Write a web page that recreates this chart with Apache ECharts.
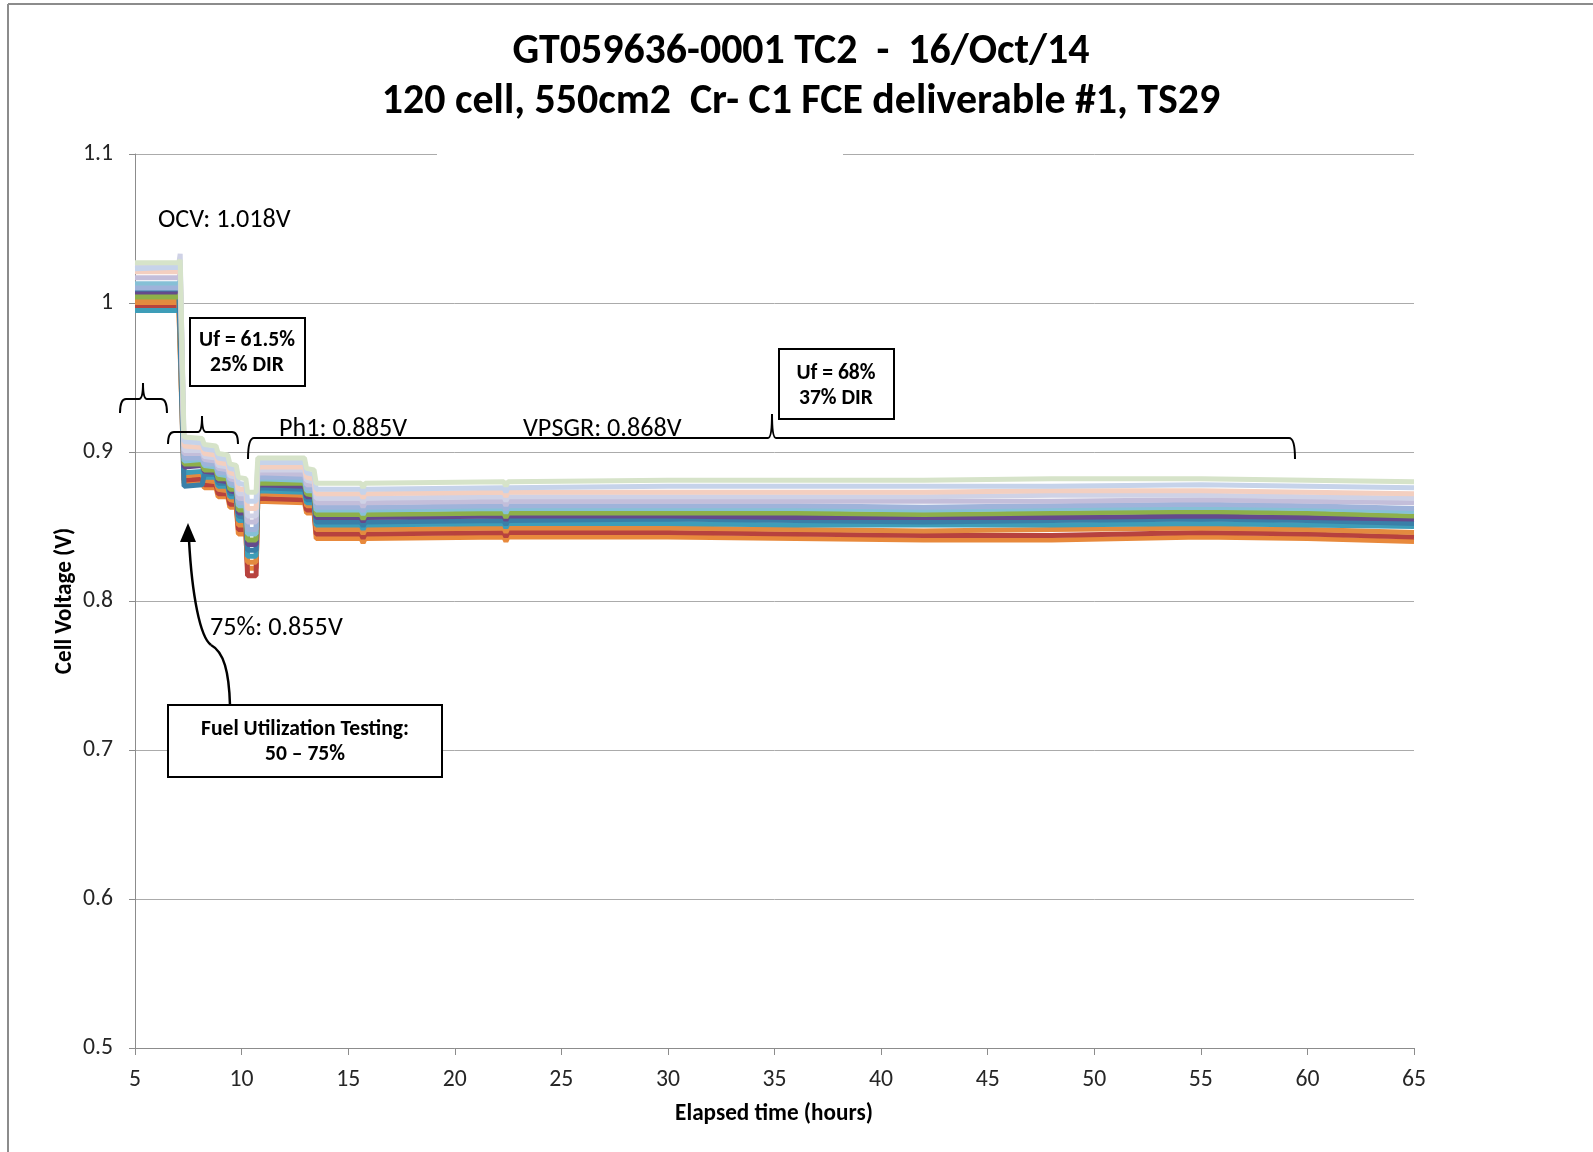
<!DOCTYPE html>
<html><head><meta charset="utf-8">
<script src="https://cdn.jsdelivr.net/npm/echarts@6/dist/echarts.min.js"></script>
<style>html,body{margin:0;padding:0;background:#fff}#c{width:1593px;height:1152px}</style>
</head><body><div id="c"></div>
<script>
// ---- data (elapsed hours, cell voltages V) ----
const timeHours = [5.0,7.05,7.12,7.3,8.15,8.25,8.8,8.9,9.35,9.45,9.75,9.85,10.2,10.28,10.68,10.76,12.95,13.05,13.4,13.5,15.6,15.7,15.8,22.3,22.4,22.5,30,36,42,48,55,60,65];
const cellOrangeLow = [1.000,1.000,1.001,.879,.880,.876,.876,.870,.870,.863,.863,.845,.845,.822,.822,.867,.866,.859,.859,.842,.842,.839,.842,.843,.840,.843,.843,.842,.841,.841,.843,.842,.840];
const cellRed       = [.997,.997,.999,.881,.882,.878,.878,.872,.872,.865,.865,.848,.848,.817,.817,.869,.868,.861,.861,.845,.845,.842,.845,.846,.843,.846,.846,.845,.844,.844,.846,.845,.843];
const cellOrange    = [1.001,1.001,1.002,.884,.885,.881,.880,.875,.874,.868,.867,.851,.851,.826,.826,.872,.871,.864,.864,.848,.848,.845,.848,.849,.846,.849,.849,.848,.847,.848,.849,.848,.846];
const cellTeal      = [.995,.995,.997,.886,.887,.883,.883,.877,.877,.870,.870,.854,.854,.830,.830,.874,.873,.866,.866,.851,.851,.848,.851,.852,.849,.852,.852,.851,.851,.851,.852,.851,.850];
const cellDarkBlue  = [1.009,1.009,1.010,.877,.878,.885,.885,.879,.879,.872,.872,.857,.856,.834,.834,.876,.875,.868,.868,.853,.853,.850,.853,.854,.851,.854,.855,.854,.853,.854,.855,.854,.852];
const cellPurple    = [1.006,1.006,1.008,.890,.891,.887,.886,.881,.880,.874,.873,.859,.859,.838,.838,.878,.877,.870,.870,.856,.856,.853,.856,.857,.854,.857,.857,.856,.856,.856,.857,.856,.855];
const cellGreen     = [1.004,1.004,1.006,.892,.892,.888,.888,.882,.882,.875,.875,.861,.861,.841,.841,.879,.879,.872,.871,.858,.858,.855,.858,.859,.856,.859,.859,.859,.858,.859,.860,.859,.857];
const cellLightBlue = [1.013,1.013,1.015,.894,.895,.891,.890,.885,.884,.878,.877,.864,.864,.845,.845,.882,.881,.874,.874,.861,.861,.858,.861,.862,.859,.862,.862,.862,.861,.862,.863,.862,.860];
const cellBlue      = [1.010,1.010,1.012,.896,.896,.892,.892,.886,.886,.879,.879,.866,.866,.848,.848,.883,.883,.876,.875,.863,.863,.860,.863,.864,.861,.864,.864,.864,.863,.864,.865,.864,.862];
const cellLavender  = [1.017,1.017,1.020,.899,.899,.895,.894,.889,.888,.882,.881,.869,.869,.853,.853,.886,.885,.878,.878,.866,.866,.863,.866,.867,.864,.867,.867,.867,.867,.867,.868,.867,.866];
const cellLavGray   = [1.025,1.026,1.033,.901,.901,.897,.896,.891,.890,.884,.883,.872,.872,.857,.857,.888,.888,.881,.880,.869,.869,.866,.869,.870,.867,.870,.870,.870,.870,.871,.871,.870,.869];
const cellPeach     = [1.021,1.021,1.024,.904,.903,.899,.898,.893,.892,.886,.885,.875,.875,.862,.862,.890,.890,.883,.882,.872,.872,.869,.872,.873,.870,.873,.873,.873,.873,.874,.874,.873,.872];
const cellPaleBlue  = [1.023,1.024,1.026,.907,.906,.902,.901,.896,.895,.889,.888,.879,.878,.867,.867,.893,.893,.886,.885,.875,.875,.872,.875,.876,.873,.876,.877,.877,.877,.877,.878,.877,.876];
const cellPaleGreen = [1.027,1.027,1.029,.910,.909,.905,.904,.899,.898,.892,.891,.883,.882,.873,.873,.896,.896,.889,.888,.879,.879,.876,.879,.880,.877,.880,.881,.881,.881,.882,.882,.881,.880];

const seriesValues = [cellOrangeLow,cellRed,cellOrange,cellTeal,cellDarkBlue,cellPurple,cellGreen,cellLightBlue,cellBlue,cellLavender,cellLavGray,cellPeach,cellPaleBlue,cellPaleGreen];
const seriesNames = ['Cell group 1','Cell group 2','Cell group 3','Cell group 4','Cell group 5','Cell group 6','Cell group 7','Cell group 8','Cell group 9','Cell group 10','Cell group 11','Cell group 12','Cell group 13','Cell group 14'];
const seriesColors = ['#E8893C','#B7423E','#E38A3F','#3E9DB8','#3A7FA8','#654A8C','#8DB04A','#86C0D6','#9FB3DA','#C3BEDA','#CFD2E6','#F3CFC0','#C6D3EA','#D6E3C9'];

const xMin = 5, xMax = 65, xStep = 5;
const yMin = 0.5, yMax = 1.1, yStep = 0.1;

const titleLine1 = 'GT059636-0001 TC2  -  16/Oct/14';
const titleLine2 = '120 cell, 550cm2  Cr- C1 FCE deliverable #1, TS29';
const xAxisName = 'Elapsed time (hours)';
const yAxisName = 'Cell Voltage (V)';

// ---- fonts ----
const FONT = 'Carlito, Calibri, Lato, sans-serif';
const cv = document.createElement('canvas').getContext('2d');
function fit(text, weight, w){ cv.font = weight + ' 100px ' + FONT; return Math.round(1000 * w / cv.measureText(text).width) / 10; }
const fTitle1 = fit(titleLine1, 'bold', 577);
const fTitle2 = fit(titleLine2, 'bold', 839);
const fAnn = fit('OCV: 1.018V', 'normal', 133);
const fBox = fit('Fuel Utilization Testing:', 'bold', 208);
const fAxisName = fit(xAxisName, 'bold', 198);
const fTick = fit('0.5', 'normal', 30);

const chart = echarts.init(document.getElementById('c'), null, {renderer: 'canvas'});

function txt(text, x, y, size, weight, align, extra){
  return Object.assign({type:'text', z:100, style:{text, x, y, fill:'#000', fontSize:size, fontFamily:FONT, fontWeight:weight, align:align||'left', verticalAlign:'middle'}}, extra||{});
}
function box(x, y, w, h){
  return {type:'rect', z:99, shape:{x, y, width:w, height:h}, style:{fill:'#fff', stroke:'#000', lineWidth:2}};
}
function brace(x1, x2, xm, yl, ye, yp){
  const r = 6, s = {stroke:'#000', lineWidth:2, fill:null};
  return [
    {type:'bezierCurve', z:100, shape:{x1:x1, y1:ye, cpx1:x1, cpy1:yl, x2:x1+r, y2:yl}, style:s},
    {type:'line', z:100, shape:{x1:x1+r, y1:yl, x2:xm-4, y2:yl}, style:s},
    {type:'bezierCurve', z:100, shape:{x1:xm-4, y1:yl, cpx1:xm, cpy1:yl, x2:xm, y2:yp}, style:s},
    {type:'bezierCurve', z:100, shape:{x1:xm, y1:yp, cpx1:xm, cpy1:yl, x2:xm+4, y2:yl}, style:s},
    {type:'line', z:100, shape:{x1:xm+4, y1:yl, x2:x2-r, y2:yl}, style:s},
    {type:'bezierCurve', z:100, shape:{x1:x2-r, y1:yl, cpx1:x2, cpy1:yl, x2:x2, y2:ye}, style:s}
  ];
}

const yName = txt(yAxisName, 0, 0, fAxisName, 'bold', 'center', {rotation: Math.PI/2, x:65, y:601});

const graphics = [
  // outer frame lines
  {type:'line', z:1, shape:{x1:8, y1:4, x2:8, y2:1152}, style:{stroke:'#8C8C8C', lineWidth:2}},
  {type:'line', z:1, shape:{x1:8, y1:4, x2:1593, y2:4}, style:{stroke:'#8C8C8C', lineWidth:2}},
  // gap in the top gridline behind the title
  {type:'rect', z:50, shape:{x:437, y:149, width:406, height:10}, style:{fill:'#fff'}},
  txt(titleLine1, 801, 53, fTitle1, 'bold', 'center'),
  txt(titleLine2, 801, 103, fTitle2, 'bold', 'center'),
  txt(xAxisName, 774, 1114, fAxisName, 'bold', 'center'),
  yName,
  txt('OCV: 1.018V', 158, 220, fAnn, 'normal', 'left'),
  txt('Ph1: 0.885V', 279, 429, fAnn, 'normal', 'left'),
  txt('VPSGR: 0.868V', 523, 429, fAnn, 'normal', 'left'),
  txt('75%: 0.855V', 210, 628, fAnn, 'normal', 'left'),
  box(190, 318, 115, 68),
  txt('Uf = 61.5%', 247, 341, fBox, 'bold', 'center'),
  txt('25% DIR', 247, 366, fBox, 'bold', 'center'),
  box(779, 349, 115, 70),
  txt('Uf = 68%', 836, 374, fBox, 'bold', 'center'),
  txt('37% DIR', 836, 399, fBox, 'bold', 'center'),
  box(168, 705, 274, 72),
  txt('Fuel Utilization Testing:', 305, 730, fBox, 'bold', 'center'),
  txt('50 \u2013 75%', 305, 755, fBox, 'bold', 'center'),
  // arrow
  {type:'bezierCurve', z:100, shape:{x1:230, y1:705, cpx1:229, cpy1:672, cpx2:224, cpy2:652, x2:211, y2:645}, style:{stroke:'#000', lineWidth:2.5, fill:null}},
  {type:'bezierCurve', z:100, shape:{x1:211, y1:645, cpx1:200, cpy1:637, cpx2:192, cpy2:595, x2:189, y2:540}, style:{stroke:'#000', lineWidth:2.5, fill:null}},
  {type:'polygon', z:100, shape:{points:[[188,523],[180,542],[196,542]]}, style:{fill:'#000'}}
].concat(
  brace(120, 167, 143, 399, 413, 383),
  brace(168, 238, 202, 432, 444, 416),
  brace(248, 1295, 772, 438, 459, 414)
);

const option = {
  animation: false,
  backgroundColor: '#fff',
  grid: {left:135, top:154, width:1279, height:894, containLabel:false},
  xAxis: {
    type:'value', min:xMin, max:xMax, interval:xStep,
    axisLine:{show:true, lineStyle:{color:'#8C8C8C', width:1}},
    axisTick:{show:true, inside:false, length:7, lineStyle:{color:'#8C8C8C'}},
    axisLabel:{margin:20, color:'#262626', fontSize:fTick, fontFamily:FONT},
    splitLine:{show:false}
  },
  yAxis: {
    type:'value', min:yMin, max:yMax, interval:yStep,
    axisLine:{show:true, lineStyle:{color:'#8C8C8C', width:1}},
    axisTick:{show:true, inside:false, length:6, lineStyle:{color:'#8C8C8C'}},
    axisLabel:{margin:22, color:'#262626', fontSize:fTick, fontFamily:FONT, formatter: v => String(+v.toFixed(1))},
    splitLine:{show:true, lineStyle:{color:'#ABABAB', width:1}}
  },
  series: seriesValues.map((vals, k) => ({
    name: seriesNames[k], type:'line', showSymbol:false, symbol:'none',
    data: timeHours.map((t, i) => [t, vals[i]]),
    lineStyle:{color:seriesColors[k], width:5}, itemStyle:{color:seriesColors[k]},
    z: 2 + k*0.01
  })),
  graphic: graphics
};
chart.setOption(option);
</script>
</body></html>
